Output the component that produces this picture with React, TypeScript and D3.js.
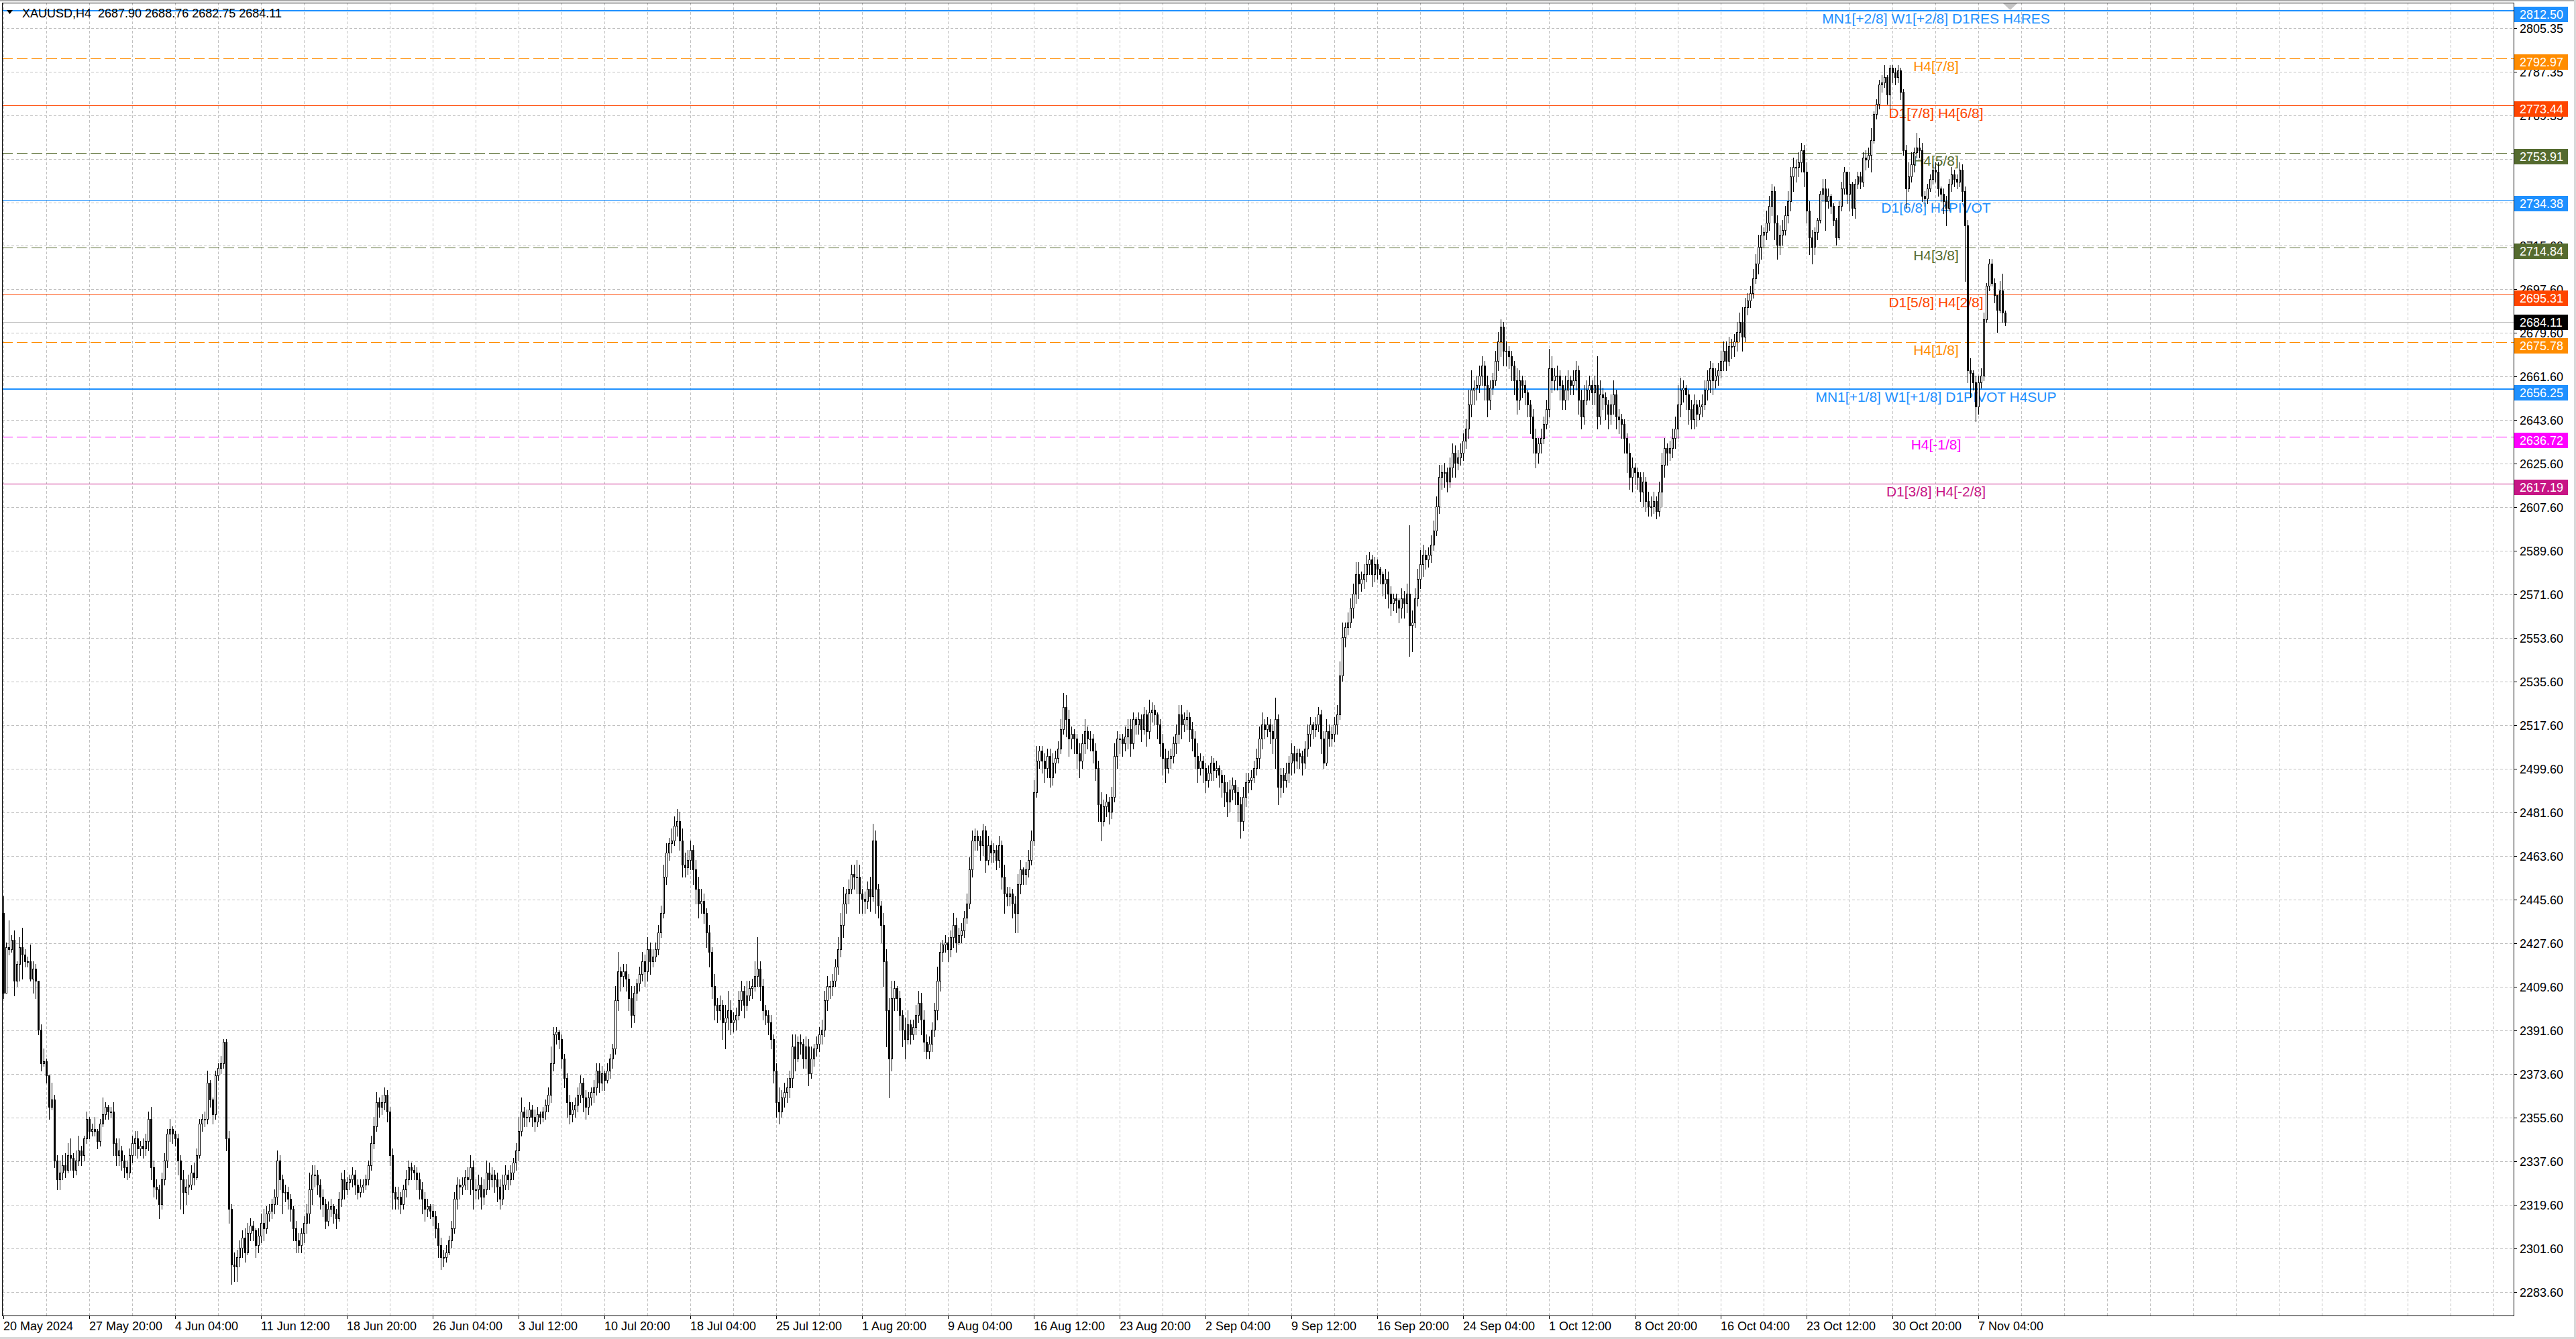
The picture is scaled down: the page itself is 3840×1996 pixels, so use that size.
import React from "react";
import * as d3 from "d3";

// ---------- DATA (XAUUSD H4) ----------
const firstOpen = 2440;

const closes: number[] = [
  2407, 2426, 2425,
  2429, 2412, 2419, 2426, 2423, 2420,
  2420, 2413, 2417, 2412, 2392, 2378,
  2379, 2373, 2360, 2363, 2338, 2330,
  2333, 2336, 2334, 2340, 2339, 2334,
  2338, 2342, 2340, 2347, 2355, 2350,
  2351, 2350, 2346, 2353, 2357, 2360,
  2358, 2358, 2345, 2340, 2342, 2338,
  2335, 2333, 2340, 2345, 2347, 2343,
  2344, 2343, 2346, 2355, 2335, 2327,
  2326, 2320, 2330, 2338, 2349, 2351,
  2349, 2347, 2338, 2330, 2325, 2327,
  2328, 2333, 2331, 2340, 2353, 2355,
  2355, 2370, 2363, 2357, 2373, 2376,
  2378, 2387, 2347, 2318, 2295, 2294,
  2298, 2302, 2306, 2300, 2308, 2311,
  2309, 2303, 2307, 2312, 2310, 2316,
  2317, 2320, 2323, 2338, 2330, 2325,
  2325, 2322, 2318, 2310, 2305, 2303,
  2308, 2312, 2316, 2326, 2332, 2332,
  2328, 2323, 2320, 2313, 2318, 2319,
  2316, 2314, 2322, 2330, 2326, 2329,
  2330, 2332, 2328, 2325, 2327, 2328,
  2330, 2336, 2345, 2352, 2362, 2360,
  2362, 2365, 2358, 2340, 2325, 2322,
  2323, 2320, 2326, 2330, 2335, 2334,
  2333, 2330, 2326, 2322, 2318, 2319,
  2317, 2315, 2310, 2303, 2298, 2298,
  2300, 2305, 2310, 2322, 2328, 2327,
  2328, 2331, 2330, 2335, 2326, 2326,
  2328, 2323, 2326, 2333, 2330, 2332,
  2330, 2327, 2322, 2328, 2332, 2330,
  2333, 2337, 2342, 2350, 2358, 2356,
  2356, 2359, 2356, 2354, 2357, 2356,
  2358, 2361, 2365, 2378, 2390, 2391,
  2388, 2380, 2372, 2362, 2357, 2359,
  2361, 2365, 2370, 2364, 2360, 2364,
  2366, 2368, 2375, 2370, 2374, 2371,
  2375, 2380, 2384, 2404, 2416, 2414,
  2416, 2413, 2405, 2398, 2407, 2411,
  2415, 2420, 2416, 2425, 2420, 2422,
  2425, 2432, 2440, 2455, 2465, 2469,
  2470, 2476, 2478, 2470, 2460, 2459,
  2462, 2466, 2458, 2450, 2444, 2445,
  2440, 2432, 2424, 2410, 2402, 2400,
  2402, 2395, 2397, 2400, 2395, 2396,
  2398, 2404, 2408, 2402, 2406, 2409,
  2410, 2414, 2417, 2410, 2400, 2398,
  2395, 2388, 2375, 2362, 2358, 2364,
  2366, 2368, 2372, 2385, 2380, 2387,
  2386, 2380, 2385, 2374, 2380, 2384,
  2386, 2390, 2392, 2404, 2410, 2410,
  2412, 2418, 2425, 2435, 2444, 2448,
  2450, 2456, 2455, 2455, 2448, 2446,
  2445, 2450, 2447, 2470, 2450, 2443,
  2435, 2420, 2400, 2380, 2405, 2409,
  2405, 2398, 2392, 2388, 2394, 2390,
  2393, 2398, 2403, 2396, 2387, 2383,
  2386, 2392, 2400, 2412, 2424, 2427,
  2428, 2425, 2430, 2435, 2428, 2431,
  2433, 2438, 2444, 2458, 2470, 2472,
  2470, 2468, 2474, 2462, 2468, 2465,
  2466, 2462, 2468, 2455, 2448, 2447,
  2448, 2444, 2440, 2452, 2458, 2456,
  2458, 2462, 2470, 2490, 2503, 2507,
  2503, 2500, 2505, 2496, 2502, 2504,
  2508, 2516, 2525, 2520, 2512, 2514,
  2512, 2506, 2503, 2510, 2515, 2512,
  2512, 2507, 2500, 2485, 2478, 2484,
  2486, 2482, 2488, 2505, 2512, 2512,
  2510, 2513, 2516, 2510, 2520, 2518,
  2520, 2516, 2522, 2515, 2523, 2524,
  2522, 2518, 2510, 2504, 2500, 2504,
  2505, 2510, 2514, 2522, 2518, 2520,
  2521, 2516, 2512, 2505, 2500, 2503,
  2500, 2495, 2498, 2502, 2499, 2500,
  2497, 2494, 2490, 2486, 2491, 2493,
  2490, 2485, 2478, 2488, 2494, 2495,
  2496, 2500, 2504, 2512, 2518, 2516,
  2518, 2515, 2512, 2520, 2492, 2497,
  2495, 2498, 2502, 2506, 2503, 2506,
  2505, 2502, 2508, 2514, 2518, 2516,
  2518, 2522, 2512, 2502, 2515, 2512,
  2514, 2518, 2522, 2538, 2554, 2558,
  2560, 2566, 2572, 2580, 2576, 2578,
  2580, 2584, 2586, 2580, 2584, 2582,
  2580, 2576, 2578, 2572, 2568, 2570,
  2569, 2566, 2570, 2568, 2572, 2559,
  2560, 2570, 2578, 2584, 2588, 2586,
  2588, 2592, 2598, 2608, 2620, 2622,
  2622, 2618, 2624, 2630, 2626, 2628,
  2630, 2635, 2640, 2650, 2656, 2657,
  2658, 2662, 2666, 2658, 2652, 2657,
  2660, 2668, 2676, 2682, 2672, 2672,
  2670, 2666, 2660, 2652, 2660, 2658,
  2655, 2650, 2645, 2636, 2630, 2634,
  2636, 2642, 2648, 2665, 2660, 2662,
  2662, 2658, 2652, 2656, 2660, 2658,
  2660, 2664, 2652, 2645, 2652, 2656,
  2658, 2655, 2658, 2645, 2654, 2653,
  2650, 2646, 2650, 2654, 2645, 2644,
  2642, 2636, 2630, 2620, 2624, 2622,
  2620, 2614, 2618, 2610, 2608, 2608,
  2610, 2606, 2614, 2625, 2632, 2630,
  2632, 2636, 2640, 2650, 2656, 2657,
  2654, 2648, 2644, 2650, 2646, 2649,
  2650, 2656, 2660, 2665, 2660, 2662,
  2664, 2668, 2672, 2668, 2674, 2674,
  2676, 2680, 2684, 2678, 2690, 2693,
  2696, 2702, 2708, 2715, 2720, 2721,
  2725, 2732, 2738, 2725, 2716, 2720,
  2722, 2728, 2734, 2744, 2748, 2748,
  2750, 2755, 2746, 2730, 2719, 2715,
  2721, 2726, 2737, 2739, 2734, 2736,
  2732, 2726, 2719, 2732, 2739, 2746,
  2737, 2741, 2731, 2741, 2744, 2742,
  2752, 2751, 2753, 2759, 2770, 2774,
  2782, 2783, 2785, 2778, 2789, 2787,
  2785, 2788, 2779, 2755, 2739, 2744,
  2749, 2754, 2756, 2755, 2736, 2735,
  2739, 2743, 2747, 2746, 2739, 2737,
  2734, 2731, 2741, 2745, 2743, 2742,
  2747, 2738, 2724, 2664, 2663, 2659,
  2649, 2659, 2662, 2685, 2699, 2708,
  2700, 2695, 2689, 2697, 2687.9, 2684.11,
];

const highs: number[] = [
  2447, 2428, 2437,
  2431, 2433, 2420, 2430, 2434, 2425,
  2422, 2427, 2420, 2419, 2412, 2394,
  2384, 2380, 2373, 2370, 2365, 2340,
  2338, 2340, 2341, 2345, 2347, 2341,
  2342, 2348, 2344, 2348, 2358, 2356,
  2353, 2356, 2351, 2355, 2364, 2362,
  2361, 2360, 2362, 2347, 2347, 2344,
  2340, 2338, 2343, 2348, 2350, 2350,
  2346, 2347, 2349, 2358, 2360, 2338,
  2330, 2328, 2333, 2341, 2351, 2355,
  2352, 2350, 2349, 2340, 2334, 2330,
  2332, 2336, 2337, 2343, 2355, 2357,
  2358, 2375, 2371, 2364, 2375, 2378,
  2381, 2388, 2388, 2350, 2320, 2300,
  2301, 2305, 2309, 2310, 2312, 2314,
  2313, 2310, 2310, 2316, 2318, 2319,
  2320, 2322, 2326, 2342, 2340, 2332,
  2328, 2327, 2324, 2319, 2313, 2308,
  2310, 2315, 2320, 2333, 2336, 2336,
  2334, 2330, 2326, 2322, 2321, 2322,
  2320, 2318, 2325, 2333, 2334, 2331,
  2332, 2335, 2334, 2330, 2330, 2330,
  2332, 2338, 2348, 2356, 2366, 2364,
  2365, 2368, 2367, 2360, 2343, 2327,
  2327, 2325, 2328, 2334, 2338, 2337,
  2336, 2335, 2333, 2329, 2325, 2322,
  2320, 2320, 2317, 2312, 2306, 2301,
  2303, 2307, 2313, 2325, 2331, 2330,
  2331, 2334, 2335, 2340, 2338, 2330,
  2332, 2331, 2330, 2338, 2337, 2335,
  2334, 2333, 2330, 2332, 2336, 2334,
  2336, 2339, 2345, 2356, 2364, 2360,
  2359, 2362, 2361, 2359, 2360, 2358,
  2360, 2363, 2368, 2385, 2393, 2393,
  2392, 2390, 2382, 2374, 2365, 2362,
  2364, 2368, 2373, 2372, 2367, 2366,
  2368, 2371, 2378, 2378, 2377, 2375,
  2378, 2382, 2386, 2410, 2424, 2418,
  2419, 2419, 2415, 2410, 2410, 2413,
  2418, 2424, 2423, 2430, 2428, 2425,
  2428, 2435, 2443, 2460, 2469, 2471,
  2475, 2480, 2483, 2482, 2475, 2465,
  2466, 2470, 2468, 2462, 2455, 2450,
  2448, 2442, 2435, 2426, 2415, 2405,
  2406, 2404, 2402, 2408, 2404, 2399,
  2401, 2408, 2412, 2410, 2412, 2412,
  2413, 2420, 2430, 2420, 2413, 2402,
  2400, 2398, 2390, 2378, 2368, 2367,
  2370, 2372, 2375, 2390, 2390, 2389,
  2390, 2388, 2389, 2388, 2385, 2386,
  2389, 2393, 2396, 2408, 2414, 2412,
  2415, 2421, 2430, 2440, 2451, 2450,
  2454, 2460, 2460, 2462, 2460, 2450,
  2449, 2453, 2455, 2477, 2474, 2452,
  2445, 2440, 2425, 2405, 2412, 2412,
  2410, 2408, 2400, 2397, 2400, 2396,
  2396, 2402, 2408, 2407, 2400, 2390,
  2389, 2395, 2403, 2418, 2428, 2429,
  2431, 2430, 2433, 2440, 2438, 2434,
  2436, 2441, 2448, 2463, 2474, 2475,
  2474, 2472, 2477, 2476, 2472, 2470,
  2469, 2468, 2472, 2470, 2460, 2451,
  2451, 2450, 2447, 2456, 2462, 2459,
  2461, 2466, 2474, 2495, 2509, 2509,
  2509, 2506, 2508, 2508, 2506, 2507,
  2511, 2520, 2531, 2530, 2524, 2517,
  2516, 2514, 2510, 2514, 2520, 2517,
  2515, 2514, 2510, 2503, 2490, 2487,
  2489, 2488, 2492, 2510, 2515, 2514,
  2514, 2517, 2520, 2520, 2523, 2521,
  2523, 2522, 2525, 2524, 2528, 2527,
  2526, 2523, 2520, 2514, 2508, 2507,
  2508, 2513, 2518, 2526, 2526, 2523,
  2524, 2523, 2519, 2515, 2510, 2506,
  2505, 2502, 2501, 2505, 2504, 2503,
  2501, 2499, 2497, 2494, 2495, 2496,
  2495, 2492, 2488, 2492, 2498, 2498,
  2499, 2503, 2508, 2517, 2523, 2520,
  2521, 2520, 2518, 2529, 2522, 2500,
  2500, 2502, 2505, 2510, 2509, 2508,
  2508, 2507, 2511, 2518, 2521, 2519,
  2521, 2525, 2524, 2515, 2520, 2518,
  2517, 2521, 2526, 2544, 2560, 2560,
  2564, 2570, 2576, 2585, 2585, 2581,
  2584, 2588, 2589, 2588, 2587, 2586,
  2583, 2581, 2582, 2581, 2575, 2572,
  2572, 2570, 2574, 2573, 2576, 2600,
  2565, 2574, 2582, 2590, 2592, 2590,
  2591, 2596, 2602, 2612, 2625, 2625,
  2626, 2624, 2628, 2634, 2633, 2631,
  2634, 2638, 2644, 2656, 2664, 2660,
  2662, 2666, 2670, 2668, 2662, 2660,
  2663, 2672, 2680, 2685, 2684, 2676,
  2674, 2672, 2668, 2665, 2664, 2662,
  2660, 2656, 2652, 2648, 2640, 2636,
  2640, 2645, 2652, 2673, 2670, 2665,
  2666, 2664, 2660, 2662, 2664, 2662,
  2664, 2668, 2666, 2656, 2658, 2660,
  2662, 2660, 2662, 2670, 2660, 2657,
  2655, 2652, 2654, 2660, 2656, 2648,
  2646, 2644, 2638, 2634, 2628, 2626,
  2624, 2622, 2622, 2620, 2614, 2612,
  2614, 2612, 2618, 2630, 2636, 2634,
  2635, 2640, 2645, 2658, 2661, 2660,
  2658, 2656, 2652, 2654, 2652, 2652,
  2654, 2660, 2664, 2668, 2667, 2665,
  2667, 2672, 2676, 2676, 2678, 2677,
  2679, 2684, 2688, 2690, 2694, 2696,
  2699, 2706, 2712, 2720, 2724, 2723,
  2730, 2736, 2741, 2740, 2728, 2724,
  2726, 2732, 2738, 2748, 2752, 2751,
  2754, 2758, 2757, 2750, 2734, 2722,
  2723, 2727, 2738, 2743, 2743, 2739,
  2737, 2733, 2727, 2734, 2742, 2748,
  2742, 2746, 2742, 2743, 2746, 2746,
  2754, 2755, 2756, 2764, 2771, 2776,
  2784, 2786, 2790, 2786, 2790, 2790,
  2789, 2790, 2789, 2780, 2757, 2750,
  2754, 2756, 2762, 2760, 2758, 2738,
  2741, 2745, 2749, 2750, 2750, 2740,
  2739, 2736, 2743, 2748, 2747, 2745,
  2750, 2749, 2740, 2726, 2669, 2664,
  2662, 2662, 2665, 2688, 2700, 2710,
  2710, 2702, 2695, 2701, 2704, 2688.76,
];

const lows: number[] = [
  2405, 2411, 2423,
  2424, 2406, 2410, 2412, 2413, 2418,
  2418, 2412, 2407, 2405, 2390, 2375,
  2377, 2370, 2355, 2359, 2335, 2326,
  2326, 2330, 2331, 2333, 2334, 2331,
  2332, 2336, 2336, 2338, 2345, 2347,
  2348, 2348, 2343, 2344, 2352, 2355,
  2355, 2356, 2340, 2336, 2336, 2334,
  2331, 2330, 2331, 2337, 2340, 2339,
  2340, 2339, 2340, 2342, 2330, 2323,
  2322, 2314, 2318, 2328, 2335, 2346,
  2345, 2344, 2332, 2318, 2316, 2320,
  2324, 2326, 2328, 2330, 2339, 2350,
  2352, 2353, 2360, 2353, 2355, 2371,
  2374, 2376, 2342, 2312, 2287, 2288,
  2288, 2294, 2298, 2296, 2299, 2305,
  2305, 2298, 2300, 2304, 2305, 2308,
  2313, 2314, 2316, 2320, 2326, 2316,
  2321, 2318, 2313, 2305, 2300, 2300,
  2300, 2304, 2308, 2312, 2320, 2327,
  2324, 2318, 2315, 2310, 2311, 2315,
  2312, 2310, 2313, 2319, 2322, 2324,
  2326, 2327, 2324, 2322, 2323, 2325,
  2326, 2328, 2334, 2343, 2350, 2356,
  2357, 2359, 2354, 2336, 2318, 2318,
  2318, 2316, 2318, 2323, 2328, 2330,
  2330, 2326, 2322, 2316, 2313, 2315,
  2314, 2311, 2306, 2298, 2293, 2294,
  2296, 2299, 2302, 2308, 2318, 2322,
  2324, 2326, 2326, 2324, 2318, 2322,
  2322, 2318, 2320, 2324, 2326, 2327,
  2325, 2321, 2318, 2320, 2326, 2326,
  2328, 2330, 2334, 2338, 2348, 2352,
  2352, 2354, 2352, 2350, 2352, 2353,
  2354, 2355, 2358, 2362, 2375, 2386,
  2384, 2376, 2368, 2356, 2353, 2354,
  2356, 2358, 2362, 2358, 2355, 2357,
  2361, 2362, 2365, 2366, 2367, 2367,
  2370, 2372, 2376, 2382, 2400, 2408,
  2410, 2408, 2400, 2393, 2395, 2404,
  2408, 2412, 2410, 2412, 2415, 2418,
  2420, 2423, 2430, 2438, 2452, 2462,
  2465, 2468, 2472, 2466, 2455, 2455,
  2456, 2458, 2452, 2444, 2438, 2440,
  2436, 2426, 2418, 2405, 2396, 2395,
  2396, 2388, 2384, 2392, 2390, 2391,
  2392, 2396, 2400, 2397, 2400, 2404,
  2405, 2408, 2410, 2404, 2396, 2394,
  2390, 2384, 2370, 2356, 2353, 2356,
  2360, 2362, 2364, 2368, 2375, 2379,
  2382, 2376, 2376, 2369, 2372, 2377,
  2381, 2383, 2386, 2389, 2400, 2405,
  2406, 2410, 2415, 2422, 2430, 2440,
  2444, 2448, 2450, 2448, 2440, 2440,
  2440, 2442, 2441, 2445, 2440, 2438,
  2428, 2410, 2385, 2364, 2375, 2400,
  2400, 2392, 2385, 2380, 2386, 2386,
  2388, 2390, 2395, 2390, 2383, 2380,
  2380, 2383, 2389, 2396, 2408, 2420,
  2424, 2420, 2422, 2426, 2424, 2427,
  2428, 2430, 2436, 2442, 2455, 2466,
  2466, 2462, 2464, 2457, 2460, 2461,
  2461, 2458, 2459, 2450, 2440, 2443,
  2443, 2438, 2432, 2432, 2448, 2452,
  2452, 2455, 2460, 2468, 2488, 2500,
  2498, 2494, 2496, 2492, 2493, 2498,
  2502, 2506, 2514, 2513, 2505, 2508,
  2506, 2500, 2496, 2500, 2506, 2508,
  2507, 2502, 2495, 2478, 2470, 2476,
  2480, 2477, 2479, 2486, 2500, 2506,
  2505, 2507, 2508, 2505, 2508, 2514,
  2514, 2511, 2514, 2509, 2512, 2519,
  2518, 2512, 2505, 2497, 2494, 2498,
  2500, 2502, 2506, 2510, 2512, 2515,
  2516, 2511, 2507, 2500, 2494, 2497,
  2494, 2490, 2492, 2495, 2495, 2496,
  2492, 2488, 2484, 2480, 2482, 2487,
  2485, 2478, 2471, 2474, 2484, 2490,
  2491, 2494, 2497, 2500, 2508, 2512,
  2513, 2510, 2506, 2500, 2485, 2488,
  2490, 2492, 2494, 2497, 2498, 2500,
  2500, 2497, 2500, 2505, 2509, 2512,
  2513, 2515, 2506, 2500, 2501, 2509,
  2509, 2511, 2514, 2520, 2536, 2550,
  2555, 2558, 2562, 2568, 2570, 2573,
  2574, 2577, 2580, 2575, 2577, 2578,
  2576, 2571, 2570, 2566, 2563, 2565,
  2564, 2560, 2562, 2562, 2564, 2546,
  2548, 2558, 2567, 2574, 2579, 2582,
  2583, 2585, 2590, 2596, 2605, 2615,
  2616, 2614, 2616, 2620, 2620, 2623,
  2625, 2627, 2632, 2636, 2645, 2650,
  2652, 2655, 2658, 2652, 2645, 2648,
  2654, 2658, 2664, 2670, 2666, 2666,
  2665, 2660, 2654, 2646, 2648, 2653,
  2650, 2645, 2638, 2630, 2624, 2626,
  2630, 2634, 2640, 2645, 2655, 2656,
  2656, 2652, 2648, 2648, 2652, 2654,
  2654, 2656, 2646, 2640, 2642, 2650,
  2652, 2650, 2650, 2640, 2642, 2648,
  2644, 2640, 2642, 2646, 2640, 2638,
  2636, 2630, 2622, 2615, 2614, 2617,
  2615, 2610, 2608, 2606, 2604, 2604,
  2605, 2603, 2604, 2608, 2620, 2625,
  2627, 2628, 2632, 2636, 2645, 2651,
  2648, 2642, 2640, 2640, 2641, 2644,
  2645, 2648, 2652, 2655, 2654, 2657,
  2658, 2661, 2664, 2664, 2666, 2669,
  2670, 2672, 2676, 2672, 2676, 2687,
  2690, 2694, 2700, 2704, 2710, 2715,
  2718, 2722, 2728, 2718, 2710, 2712,
  2716, 2720, 2725, 2730, 2738, 2742,
  2744, 2746, 2740, 2725, 2712, 2708,
  2712, 2718, 2725, 2734, 2722, 2731,
  2729, 2724, 2716, 2718, 2730, 2737,
  2733, 2730, 2728, 2727, 2739, 2739,
  2740, 2747, 2748, 2746, 2758, 2768,
  2772, 2779, 2781, 2774, 2772, 2783,
  2782, 2783, 2776, 2753, 2731, 2738,
  2742, 2746, 2752, 2752, 2734, 2732,
  2733, 2738, 2741, 2742, 2736, 2734,
  2729, 2724, 2730, 2738, 2740, 2739,
  2740, 2734, 2701, 2659, 2653, 2656,
  2643, 2646, 2657, 2660, 2684, 2697,
  2699, 2692, 2680, 2688, 2684, 2682.75,
];

const dateLabels: string[] = [
  "20 May 2024", "27 May 20:00", "4 Jun 04:00", "11 Jun 12:00", "18 Jun 20:00",
  "26 Jun 04:00", "3 Jul 12:00", "10 Jul 20:00", "18 Jul 04:00", "25 Jul 12:00",
  "1 Aug 20:00", "9 Aug 04:00", "16 Aug 12:00", "23 Aug 20:00", "2 Sep 04:00",
  "9 Sep 12:00", "16 Sep 20:00", "24 Sep 04:00", "1 Oct 12:00", "8 Oct 20:00",
  "16 Oct 04:00", "23 Oct 12:00", "30 Oct 20:00", "7 Nov 04:00",
];

const priceTicks: string[] = [
  "2805.35", "2787.35", "2769.35", "2751.35", "2733.35", "2715.60", "2697.60",
  "2679.60", "2661.60", "2643.60", "2625.60", "2607.60", "2589.60", "2571.60",
  "2553.60", "2535.60", "2517.60", "2499.60", "2481.60", "2463.60", "2445.60",
  "2427.60", "2409.60", "2391.60", "2373.60", "2355.60", "2337.60", "2319.60",
  "2301.60", "2283.60",
];

const levelPrices: number[] = [
  2812.5, 2792.97, 2773.44, 2753.91, 2734.38, 2714.84,
  2695.31, 2675.78, 2656.25, 2636.72, 2617.19,
];
const levelNames: string[] = [
  "MN1[+2/8] W1[+2/8] D1RES H4RES", "H4[7/8]", "D1[7/8] H4[6/8]", "H4[5/8]",
  "D1[6/8] H4PIVOT", "H4[3/8]", "D1[5/8] H4[2/8]", "H4[1/8]",
  "MN1[+1/8] W1[+1/8] D1PIVOT H4SUP", "H4[-1/8]", "D1[3/8] H4[-2/8]",
];
const levelColors: string[] = [
  "#1E90FF", "#FF8C00", "#FF4500", "#556B2F", "#1E90FF", "#556B2F",
  "#FF4500", "#FF8C00", "#1E90FF", "#FF00FF", "#C71585",
];
const levelDashed: boolean[] = [
  false, true, false, true, false, true, false, true, false, true, false,
];
const levelWidths: number[] = [2, 1, 1, 1, 1, 1, 1, 1, 2, 1, 1];

const symbolHeader = "XAUUSD,H4  2687.90 2688.76 2682.75 2684.11";
const lastPrice = 2684.11;

// ---------- CHART ----------
const W = 3840;
const H = 1996;
const PL = 3;
const PT = 4;
const PR = 3747;
const PB = 1961;
const FONT = "'Liberation Sans', Arial, sans-serif";

export default function App() {
  const x = d3.scaleLinear().domain([0, 746]).range([5, 2989]);
  const y = d3.scaleLinear().domain([2607.6, 2805.35]).range([756, 41.9]);

  const bars = closes.map((c, i) => {
    const o = i === 0 ? firstOpen : closes[i - 1];
    return {
      i,
      o,
      c,
      h: Math.max(highs[i], o, c),
      l: Math.min(lows[i], o, c),
    };
  });

  const vGrid = d3.range(0, 929, 16);
  const labelIdx = dateLabels.map((_, j) => j * 32);

  return (
    <svg
      width={W}
      height={H}
      viewBox={`0 0 ${W} ${H}`}
      style={{ position: "absolute", left: 0, top: 0, display: "block" }}
    >
      <rect x={0} y={0} width={W} height={H} fill="#ffffff" />
      {/* window frame */}
      <rect x={0} y={0} width={W} height={2} fill="#a9a9a9" />
      <rect x={3837} y={0} width={3} height={H} fill="#d9d9d9" />
      <rect x={0} y={1993} width={W} height={3} fill="#d9d9d9" />

      {/* grid */}
      <g stroke="#c0c0c0" strokeWidth={1} strokeDasharray="4,3" shapeRendering="crispEdges">
        {priceTicks.map((t) => {
          const yy = Math.round(y(+t)) + 0.5;
          return <line key={"h" + t} x1={PL} x2={PR} y1={yy} y2={yy} />;
        })}
        {vGrid.map((i) => {
          const xx = Math.round(x(i)) + 0.5;
          return <line key={"v" + i} x1={xx} x2={xx} y1={PT} y2={PB} />;
        })}
      </g>

      {/* current price line */}
      <line
        x1={PL}
        x2={PR}
        y1={Math.round(y(lastPrice)) + 0.5}
        y2={Math.round(y(lastPrice)) + 0.5}
        stroke="#c0c0c0"
        strokeWidth={1}
        shapeRendering="crispEdges"
      />

      {/* level lines */}
      <g shapeRendering="crispEdges">
        {levelPrices.map((p, k) => {
          const yy = Math.round(y(p)) + (levelWidths[k] === 2 ? 0 : 0.5);
          return (
            <line
              key={"l" + k}
              x1={PL}
              x2={PR}
              y1={yy}
              y2={yy}
              stroke={levelColors[k]}
              strokeWidth={levelWidths[k]}
              strokeDasharray={levelDashed[k] ? "16,6" : undefined}
            />
          );
        })}
      </g>
      <g fontFamily={FONT} fontSize={21} textAnchor="middle">
        {levelPrices.map((p, k) => (
          <text key={"t" + k} x={2886} y={y(p) + 19} fill={levelColors[k]}>
            {levelNames[k]}
          </text>
        ))}
      </g>

      {/* candles */}
      <g shapeRendering="crispEdges">
        {bars.map((b) => {
          const px = Math.round(x(b.i));
          const yo = y(b.o);
          const yc = y(b.c);
          const yt = Math.round(Math.min(yo, yc));
          const yb = Math.round(Math.max(yo, yc));
          const bull = b.c > b.o;
          const hgt = Math.max(yb - yt, 1);
          return (
            <g key={"b" + b.i}>
              <line
                x1={px + 0.5}
                x2={px + 0.5}
                y1={Math.round(y(b.h))}
                y2={Math.round(y(b.l)) + 1}
                stroke="#000"
                strokeWidth={1}
              />
              {bull ? (
                <rect
                  x={px - 0.5}
                  y={yt + 0.5}
                  width={2}
                  height={hgt}
                  fill="#fff"
                  stroke="#000"
                  strokeWidth={1}
                />
              ) : (
                <rect x={px - 1} y={yt} width={3} height={hgt + 1} fill="#000" />
              )}
            </g>
          );
        })}
      </g>

      {/* shift marker */}
      <path d="M2986,5 L3007,5 L2996.5,15 Z" fill="#c4c4c4" />

      {/* plot frame */}
      <rect
        x={PL + 0.5}
        y={PT + 0.5}
        width={PR - PL}
        height={PB - PT}
        fill="none"
        stroke="#000"
        strokeWidth={1}
        shapeRendering="crispEdges"
      />

      {/* header */}
      <path d="M10,15 L19,15 L14.5,21 Z" fill="#000" />
      <text x={33} y={26} fontFamily={FONT} fontSize={18} fill="#000" xmlSpace="preserve">
        {symbolHeader}
      </text>

      {/* right price axis */}
      <g fontFamily={FONT} fontSize={18} fill="#000">
        {priceTicks.map((t) => {
          const yy = Math.round(y(+t));
          return (
            <g key={"pt" + t}>
              <line x1={PR} x2={PR + 5} y1={yy + 0.5} y2={yy + 0.5} stroke="#000" shapeRendering="crispEdges" />
              <text x={3756} y={yy + 7}>
                {t}
              </text>
            </g>
          );
        })}
      </g>
      <g fontFamily={FONT} fontSize={18}>
        {levelPrices.map((p, k) => {
          const yy = Math.round(y(p));
          return (
            <g key={"pb" + k}>
              <rect x={3748} y={yy - 6} width={80} height={23} fill={levelColors[k]} />
              <text x={3756} y={yy + 12} fill="#fff">
                {p.toFixed(2)}
              </text>
            </g>
          );
        })}
        <rect x={3748} y={Math.round(y(lastPrice)) - 11} width={80} height={23} fill="#000" />
        <text x={3756} y={Math.round(y(lastPrice)) + 7} fill="#fff">
          {lastPrice.toFixed(2)}
        </text>
      </g>

      {/* bottom time axis */}
      <g fontFamily={FONT} fontSize={18} fill="#000">
        {labelIdx.map((i, j) => {
          const xx = Math.round(x(i));
          return (
            <g key={"d" + j}>
              <line x1={xx + 0.5} x2={xx + 0.5} y1={PB} y2={PB + 5} stroke="#000" shapeRendering="crispEdges" />
              <text x={xx} y={1983}>
                {dateLabels[j]}
              </text>
            </g>
          );
        })}
      </g>
    </svg>
  );
}
